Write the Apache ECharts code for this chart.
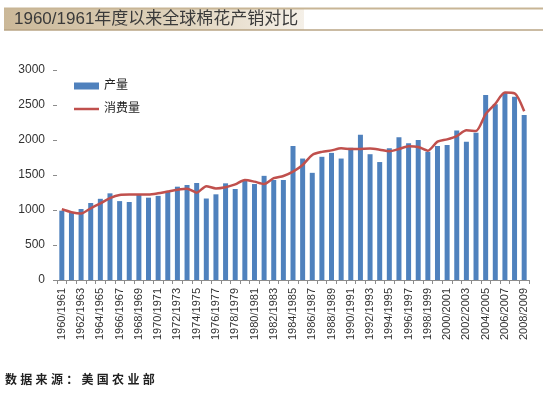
<!DOCTYPE html>
<html>
<head>
<meta charset="utf-8">
<script src="https://cdn.jsdelivr.net/npm/echarts@6/dist/echarts.min.js"></script>
<style>
html,body{margin:0;padding:0;background:#fff;}
#c{width:553px;height:394px;}
</style>
</head>
<body>
<div id="c"></div>
<script>
var categories = ['1960/1961','1961/1962','1962/1963','1963/1964','1964/1965','1965/1966','1966/1967','1967/1968','1968/1969','1969/1970',
'1970/1971','1971/1972','1972/1973','1973/1974','1974/1975','1975/1976','1976/1977','1977/1978','1978/1979','1979/1980',
'1980/1981','1981/1982','1982/1983','1983/1984','1984/1985','1985/1986','1986/1987','1987/1988','1988/1989','1989/1990',
'1990/1991','1991/1992','1992/1993','1993/1994','1994/1995','1995/1996','1996/1997','1997/1998','1998/1999','1999/2000',
'2000/2001','2001/2002','2002/2003','2003/2004','2004/2005','2005/2006','2006/2007','2007/2008','2008/2009'];
var production = [990,962,1014,1100,1160,1238,1127,1114,1217,1176,
1202,1262,1333,1357,1386,1164,1224,1381,1300,1430,
1371,1488,1429,1429,1916,1735,1531,1760,1816,1735,
1890,2075,1797,1685,1881,2038,1952,2000,1833,1914,
1929,2136,1976,2105,2643,2512,2676,2619,2357];
var consumption = [1010,969,950,1024,1095,1170,1215,1220,1220,1220,
1238,1265,1290,1305,1248,1340,1308,1325,1365,1429,
1405,1371,1455,1486,1548,1643,1786,1830,1852,1881,
1871,1873,1878,1862,1838,1871,1910,1900,1848,1976,
2009,2057,2138,2130,2370,2517,2678,2667,2410];
var seriesNames = ['产量','消费量'];
var titleText = '1960/1961年度以来全球棉花产销对比';
var sourceText = '数据来源：美国农业部';

var chart = echarts.init(document.getElementById('c'), null, {renderer:'canvas'});
var FONT = '"Liberation Sans", Arial, "Noto Sans CJK SC", sans-serif';

var graphics = [
  {type:'rect', shape:{x:4,y:9,width:300,height:21}, style:{fill:new echarts.graphic.LinearGradient(0,0,1,0,[{offset:0,color:'#cbb898'},{offset:0.6,color:'#e0d4be'},{offset:1,color:'#f5f0e8'}])}, z:0},
  {type:'line', shape:{x1:4,y1:8.5,x2:543,y2:8.5}, style:{stroke:'#c8b595',lineWidth:2}, z:1},
  {type:'line', shape:{x1:4,y1:30,x2:543,y2:30}, style:{stroke:'#b9a584',lineWidth:1.5}, z:1},
  {type:'text', x:14, y:19.5, style:{text:titleText, font:'17px "Liberation Sans", "Noto Sans CJK SC", sans-serif', fill:'#3a3a3a', verticalAlign:'middle'}, z:2}
];
var chars = sourceText.split('');
for (var i=0;i<chars.length;i++){
  graphics.push({type:'text', x:5+i*15.3, y:379, style:{text:chars[i], font:'bold 12px "Noto Sans CJK SC", sans-serif', fill:'#222', verticalAlign:'middle'}});
}

chart.setOption({
  animation:false,
  backgroundColor:'#fff',
  textStyle:{fontFamily:FONT},
  grid:{left:57,right:24,top:70,bottom:114,containLabel:false},
  legend:[
    {data:[{name:seriesNames[0], icon:'rect'}], orient:'vertical', left:74, top:80, padding:0, itemWidth:25, itemHeight:7, textStyle:{fontSize:12,color:'#222',fontFamily:FONT}},
    {data:[{name:seriesNames[1], icon:'rect'}], orient:'vertical', left:74, top:103, padding:0, itemWidth:25, itemHeight:2.5, textStyle:{fontSize:12,color:'#222',fontFamily:FONT}}
  ],
  xAxis:{
    type:'category', data:categories, boundaryGap:true,
    axisLine:{lineStyle:{color:'#8c8c8c',width:1}},
    axisTick:{show:true, interval:0, length:4, lineStyle:{color:'#8c8c8c'}},
    axisLabel:{interval:1, rotate:90, fontSize:11, color:'#333', margin:8, fontFamily:FONT}
  },
  yAxis:{
    type:'value', min:0, max:3000, interval:500,
    axisLine:{show:false},
    axisTick:{show:true, length:4, lineStyle:{color:'#8c8c8c'}},
    splitLine:{show:false},
    axisLabel:{fontSize:12, color:'#333', margin:12, fontFamily:FONT, formatter:function(v){return String(v);}}
  },
  series:[
    {name:seriesNames[0], type:'bar', data:production, barWidth:5, itemStyle:{color:'#4f81bd'}},
    {name:seriesNames[1], type:'line', data:consumption, symbol:'none', smooth:0.25, lineStyle:{color:'#c0504d',width:2.5}, itemStyle:{color:'#c0504d'}, z:3}
  ],
  graphic:graphics
});
</script>
</body>
</html>
